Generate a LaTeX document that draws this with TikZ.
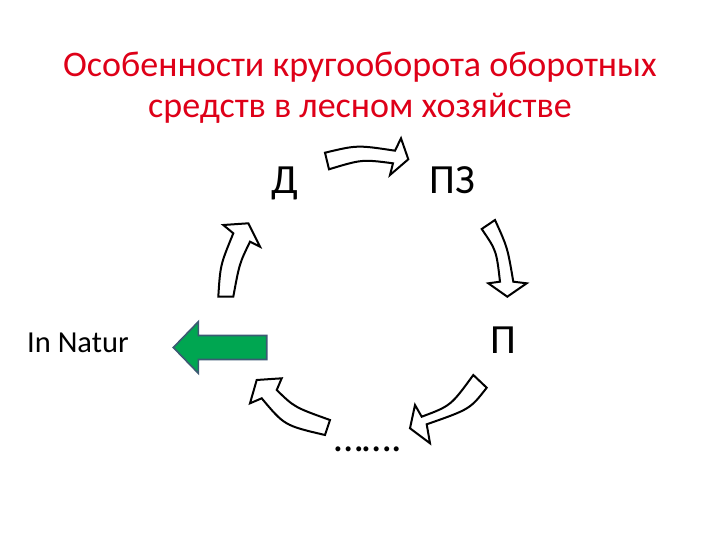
\documentclass[tikz,border=0pt]{standalone}
\usepackage{fontspec}
\setmainfont{Carlito}
\definecolor{titlered}{RGB}{222,0,24}
\definecolor{arrowgreen}{RGB}{0,166,81}
\definecolor{arrowedge}{RGB}{60,90,115}
\begin{document}
\begin{tikzpicture}[x=1pt,y=-1pt,
  blockarrow/.style={draw=black,fill=white,line width=2.0pt,line join=miter},
  greenarrow/.style={draw=arrowedge,fill=arrowgreen,line width=1.6pt,line join=miter},
  titletext/.style={text=titlered,font=\fontsize{36}{40}\selectfont,anchor=base,inner sep=0pt},
  stage/.style={font=\fontsize{41.5}{46}\selectfont,anchor=base,inner sep=0pt}]
\useasboundingbox (0,0) rectangle (720,540);
% title
\node[titletext] (t1) at (360,77) {Особенности кругооборота оборотных};
\node[titletext] (t2) at (360,118) {средств в лесном хозяйстве};
% stages
\node[stage] (d) at (285,194) {Д};
\node[stage] (pz) at (452,194) {ПЗ};
\node[stage] (p) at (503,353) {П};
\node[stage] (dots) at (368,451) {…….};
\node[font=\fontsize{30.5}{36}\selectfont,anchor=base west,inner sep=0pt] (nat) at (27,352) {In Natur};
% curved block arrows
\draw[blockarrow] (325,152.7) .. controls (357.3,145.0) .. (395,150.7) -- (401,138.3) -- (408.3,159.3) -- (390,175) -- (393,163.3) .. controls (362,159.3) .. (329,169.3) -- cycle;
\draw[blockarrow] (481.7,229) -- (495,220) .. controls (507.5,247.5) .. (513.3,281.7) -- (526.7,283.3) -- (507.3,296.7) -- (488.3,283.3) -- (500,281.7) .. controls (496.4,250.5) .. cycle;
\draw[blockarrow] (473.3,375) -- (486.7,387.7) .. controls (470.1,409.1) .. (426.7,424.3) -- (430,443.3) -- (410,428.3) -- (415,405) -- (421.7,416.7) .. controls (450.8,405.8) .. cycle;
\draw[blockarrow] (330,420) .. controls (294.5,407.3) .. (276.7,390) -- (281.7,378.3) -- (256.7,380) -- (250,403.3) -- (261.7,398.3) .. controls (284.5,425.5) .. (325,435) -- cycle;
\draw[blockarrow] (218.3,296.7) .. controls (220.3,265) .. (233.3,233.3) -- (223.3,225) -- (248.3,223.3) -- (260,246.7) -- (250,241.7) .. controls (239.4,263.6) .. (233.3,296.7) -- cycle;
% green arrow
\draw[greenarrow] (173.3,347.5) -- (198.3,321.7) -- (198.3,335.5) -- (266.7,335.5) -- (266.7,359.5) -- (198.3,359.5) -- (198.3,373.3) -- cycle;
\end{tikzpicture}
\end{document}
